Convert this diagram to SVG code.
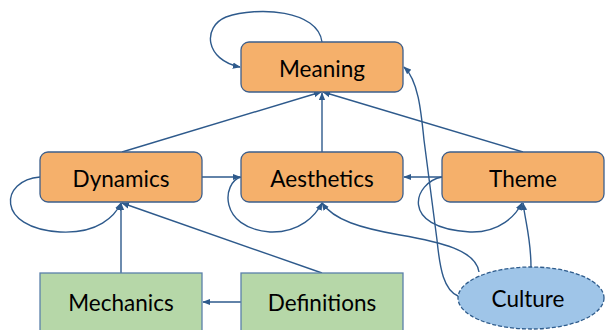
<svg xmlns="http://www.w3.org/2000/svg" width="605" height="330" viewBox="0 0 605 330">
<defs>
<style>
.o{fill:#F5B06B;stroke:#3D5F8C;stroke-width:1.3}
.g{fill:#B6D7A8;stroke:#5B80AA;stroke-width:1.3}
.c{fill:#9FC5E8;stroke:#2F5C8C;stroke-width:1.3;stroke-dasharray:4 2}
.t{font-family:Lato,"Liberation Sans",sans-serif;font-size:22.5px;fill:#000;text-anchor:middle;dominant-baseline:central}
.e{fill:none;stroke:#2E5A8C;stroke-width:1.4;marker-end:url(#a)}
</style>
<marker id="a" viewBox="0 0 10 10" refX="9" refY="5" markerWidth="8" markerHeight="8" markerUnits="userSpaceOnUse" orient="auto">
<path d="M0,1 L10,5 L0,9 Z" fill="#2E5A8C"/>
</marker>
</defs>
<g id="connectors">
<path class="e" d="M322,42 C318,10 258,6 226,17 C202,27 205,60 240,67"/>
<path class="e" d="M122,152 L321,92"/>
<path class="e" d="M322,152 L322,93"/>
<path class="e" d="M523,152 L323,92"/>
<path class="e" d="M202,177 L240,177"/>
<path class="e" d="M442,177 L404,177"/>
<path class="e" d="M40,177 C0,180 -5,228 60,232 C98,234 115,216 121,203"/>
<path class="e" d="M241,177 C222,182 218,228 270,232 C300,233 316,215 322,203"/>
<path class="e" d="M442,177 C414,182 398,228 470,232 C500,233 516,215 522,203"/>
<path class="e" d="M121,273 L121,203"/>
<path class="e" d="M322,273 L122,203"/>
<path class="e" d="M241,302 L203,302"/>
<path class="e" d="M479,272 C476,250 440,242 400,235 C360,228 334,220 322,203"/>
<path class="e" d="M531,267 C531,240 526,225 523,203"/>
<path class="e" d="M458,296 C444,290 440,270 437,240 L424,140 C421,110 418,80 404,67"/>
</g>
<g id="meaning"><rect class="o" x="241" y="42" width="162" height="50" rx="8"/><text class="t" x="322" y="68">Meaning</text></g>
<g id="dynamics"><rect class="o" x="40" y="152" width="162" height="50" rx="8"/><text class="t" x="121" y="178">Dynamics</text></g>
<g id="aesthetics"><rect class="o" x="241" y="152" width="162" height="50" rx="8"/><text class="t" x="322" y="178">Aesthetics</text></g>
<g id="theme"><rect class="o" x="442" y="152" width="162" height="50" rx="8"/><text class="t" x="523" y="178">Theme</text></g>
<g id="mechanics"><rect class="g" x="40" y="273" width="162" height="62"/><text class="t" x="121" y="302">Mechanics</text></g>
<g id="definitions"><rect class="g" x="241" y="273" width="162" height="62"/><text class="t" x="322" y="302">Definitions</text></g>
<g id="culture"><ellipse class="c" cx="531" cy="298" rx="73" ry="31"/><text class="t" x="528" y="298">Culture</text></g>
</svg>
